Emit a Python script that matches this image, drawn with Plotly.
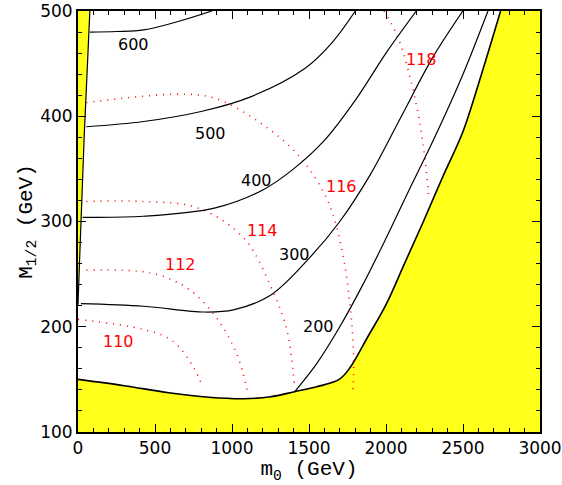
import plotly.graph_objects as go

# excluded region boundary (bottom + right)
edge_m0 = [0, 300, 589, 850, 1078, 1250, 1405, 1550, 1696, 1766, 1880, 2000, 2120, 2243, 2370, 2500, 2620, 2744]
edge_m12 = [150, 144, 137.3, 133, 131.6, 133.5, 138.3, 143, 150, 161, 190, 221, 260, 300, 343, 385.5, 440, 500]
# left excluded sliver
left_m0 = [0, 77, 40, 12, 0]
left_m12 = [500, 500, 380, 270, 221]

# black contours (mass labels)
black = {
    "600": ([77, 250, 426, 650, 869], [480, 480.5, 482, 490, 500]),
    "500": ([54, 426, 799, 1125, 1475, 1650, 1801], [390, 395, 404.5, 418.7, 445.6, 470, 500]),
    "400": ([30, 426, 892, 1200, 1400, 1600, 1800, 2000, 2197], [304, 305, 313, 330, 350, 377, 415, 460, 500]),
    "300": ([19, 426, 822, 1009, 1250, 1500, 1700, 1900, 2100, 2300, 2499], [222, 219.5, 214, 216, 230, 265, 300, 345, 400, 455, 500]),
    "200": ([1405, 1550, 1700, 1850, 2000, 2150, 2300, 2500, 2662], [138, 165, 200, 240, 284, 330, 375, 440, 500]),
}
black_lab = {"600": (361, 468), "500": (862, 384), "400": (1160, 339), "300": (1409, 269), "200": (1561, 200)}

# red dotted contours (Higgs mass)
red = {
    "110": ([0, 426, 613, 752, 811], [207, 197.4, 186.6, 161, 142]),
    "112": ([54, 473, 706, 892, 1032, 1102], [253.7, 251, 237, 210, 173.7, 137]),
    "114": ([54, 426, 776, 1078, 1265, 1358, 1405], [319, 319, 313, 284, 233.7, 196, 145]),
    "116": ([54, 659, 892, 1171, 1428, 1614, 1707, 1766, 1789, 1785], [413, 421, 417, 395, 363.4, 322, 278, 221, 173.7, 135]),
    "118": ([1987, 2080, 2197, 2255, 2278], [500, 474, 411, 357, 322]),
}
red_lab = {"110": (263, 186), "112": (664, 259), "114": (1195, 291), "116": (1712, 333), "118": (2232, 454)}

fig = go.Figure()
yellow = "#ffff1a"
fig.add_trace(go.Scatter(x=edge_m0 + [3000, 3000, 0], y=edge_m12 + [500, 100, 100],
                         fill="toself", fillcolor=yellow, line=dict(width=0), mode="lines", hoverinfo="skip"))
fig.add_trace(go.Scatter(x=left_m0, y=left_m12, fill="toself", fillcolor=yellow,
                         line=dict(width=0), mode="lines", hoverinfo="skip"))
fig.add_trace(go.Scatter(x=edge_m0, y=edge_m12, mode="lines", line=dict(color="black", width=1.6, shape="spline")))
fig.add_trace(go.Scatter(x=left_m0[1:], y=left_m12[1:], mode="lines", line=dict(color="black", width=1.2)))

for k, (xs, ys) in red.items():
    fig.add_trace(go.Scatter(x=xs, y=ys, mode="lines",
                             line=dict(color="red", width=1.6, dash="1px,6px", shape="spline")))
for k, (xs, ys) in black.items():
    fig.add_trace(go.Scatter(x=xs, y=ys, mode="lines", line=dict(color="black", width=1.2, shape="spline")))

for k, (x, y) in black_lab.items():
    fig.add_annotation(x=x, y=y, text=k, showarrow=False, font=dict(color="black", size=16))
for k, (x, y) in red_lab.items():
    fig.add_annotation(x=x, y=y, text=k, showarrow=False, font=dict(color="red", size=16))

axis = dict(showgrid=False, zeroline=False, ticks="inside", mirror="allticks", showline=True,
            linecolor="black", linewidth=2, tickcolor="black", ticklen=8, tickwidth=1.3,
            automargin=False, tickfont=dict(family="DejaVu Sans", size=17, color="black"))
fig.update_xaxes(range=[0, 3000], dtick=500, minor=dict(dtick=100, ticks="inside", ticklen=4, tickcolor="black"),
                 title=dict(text="m<sub>0</sub> (GeV)", font=dict(family="Liberation Mono", size=21, color="black"), standoff=2),
                 **axis)
fig.update_yaxes(range=[100, 500], dtick=100, minor=dict(dtick=20, ticks="inside", ticklen=4, tickcolor="black"),
                 title=dict(text="M<sub>1/2</sub> (GeV)", font=dict(family="Liberation Mono", size=21, color="black"), standoff=2),
                 **axis)
fig.update_layout(width=562, height=485, showlegend=False, plot_bgcolor="white", paper_bgcolor="white",
                  margin=dict(l=78, r=22, t=11, b=53), font=dict(family="DejaVu Sans"))
fig.write_html("out.html", config={"displayModeBar": False},
               post_script="document.body.style.margin='0';")
